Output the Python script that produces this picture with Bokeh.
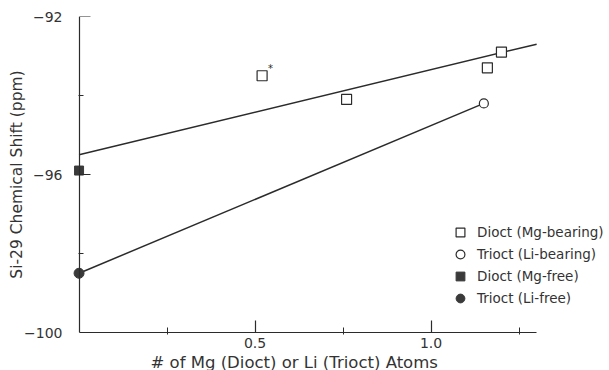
from bokeh.plotting import figure
from bokeh.models import (FixedTicker, Range1d, Label, Legend, LegendItem, Title,
                          PrintfTickFormatter, LinearAxis)
from bokeh.embed import file_html
from bokeh.resources import INLINE

# ---- data ----
dioct_mg_x = [0.52, 0.76, 1.16, 1.20]
dioct_mg_y = [-93.5, -94.1, -93.3, -92.9]
trioct_li_x = [1.15]
trioct_li_y = [-94.2]
dioct_free_x = [0.0]
dioct_free_y = [-95.9]
trioct_free_x = [0.0]
trioct_free_y = [-98.5]
upper_fit_x = [0.0, 1.3]
upper_fit_y = [-95.5, -92.7]
lower_fit_x = [0.0, 1.15]
lower_fit_y = [-98.5, -94.2]

x_major = [0.5, 1.0]
x_minor = [0.25, 0.75, 1.25]
y_major = [-100, -96, -92]
y_minor = [-98, -94]

labels = ["Dioct (Mg-bearing)", "Trioct (Li-bearing)", "Dioct (Mg-free)", "Trioct (Li-free)"]

INK = "#2b2b2b"
TXT = "#333333"
FONT = "DejaVu Sans"

p = figure(frame_width=537, frame_height=316, output_backend="svg", toolbar_location=None,
           x_range=Range1d(-0.03, 1.4956), y_range=Range1d(-100, -92),
           min_border_left=68, min_border_right=0, min_border_top=16, min_border_bottom=10)
p.outline_line_color = None
p.grid.visible = False
p.background_fill_color = "white"
p.border_fill_color = "white"

# x axis
xa = p.xaxis[0]
xa.ticker = FixedTicker(ticks=x_major, minor_ticks=x_minor)
xa.formatter = PrintfTickFormatter(format="%.1f")
xa.bounds = (0, 1.3)
xa.axis_line_color = INK
xa.axis_line_width = 1.2
xa.major_tick_line_color = INK
xa.minor_tick_line_color = INK
xa.major_tick_line_width = 1.2
xa.major_tick_in = 12
xa.major_tick_out = 0
xa.minor_tick_in = 5
xa.minor_tick_out = 2
xa.major_label_standoff = 3
xa.major_label_text_font = FONT
xa.major_label_text_font_size = "14px"
xa.major_label_text_color = TXT

# y axis: tick labels and title only (sits at frame edge)
ya = p.yaxis[0]
ya.ticker = FixedTicker(ticks=y_major, minor_ticks=y_minor)
ya.axis_line_color = None
ya.major_tick_line_color = None
ya.minor_tick_line_color = None
ya.major_tick_out = 0
ya.major_tick_in = 0
ya.minor_tick_out = 0
ya.minor_tick_in = 0
ya.major_label_standoff = 6
ya.major_label_text_font = FONT
ya.major_label_text_font_size = "14px"
ya.major_label_text_color = TXT
ya.axis_label = "Si-29 Chemical Shift (ppm)"
ya.axis_label_text_font = FONT
ya.axis_label_text_font_size = "15.5px"
ya.axis_label_text_font_style = "normal"
ya.axis_label_text_color = TXT
ya.axis_label_standoff = -5

# y axis line plus short ticks, drawn at x = 0 (no labels)
yb = LinearAxis(fixed_location=0, ticker=FixedTicker(ticks=[], minor_ticks=y_minor),
                axis_line_color=INK, axis_line_width=1.2,
                major_tick_line_color=None, major_tick_in=0, major_tick_out=0,
                minor_tick_line_color=INK, minor_tick_in=4, minor_tick_out=1,
                major_label_standoff=0)
p.add_layout(yb, "left")
# longer ticks at the labelled values, drawn at x = 0
yc = LinearAxis(fixed_location=0, ticker=FixedTicker(ticks=[], minor_ticks=y_major),
                axis_line_color=None,
                major_tick_line_color=None, major_tick_in=0, major_tick_out=0,
                minor_tick_line_color=INK, minor_tick_line_width=1.2,
                minor_tick_in=11, minor_tick_out=0,
                major_label_standoff=0)
p.add_layout(yc, "left")

# fit lines
p.line(upper_fit_x, upper_fit_y, line_color=INK, line_width=1.5)
p.line(lower_fit_x, lower_fit_y, line_color=INK, line_width=1.5)

r1 = p.scatter(dioct_mg_x, dioct_mg_y, marker="square", size=10, fill_color="white",
               line_color=INK, line_width=1.2)
r2 = p.scatter(trioct_li_x, trioct_li_y, marker="circle", size=9, fill_color="white",
               line_color=INK, line_width=1.2)
r3 = p.scatter(dioct_free_x, dioct_free_y, marker="square", size=9, fill_color="#3a3a3a",
               line_color="#3a3a3a")
r4 = p.scatter(trioct_free_x, trioct_free_y, marker="circle", size=10, fill_color="#3a3a3a",
               line_color="#3a3a3a")

# asterisk next to the first Mg-bearing point
p.add_layout(Label(x=dioct_mg_x[0], y=dioct_mg_y[0], text="*", x_offset=6, y_offset=2,
                   text_font=FONT, text_font_size="10px", text_color=INK))

# x-axis label as a bottom title
p.add_layout(Title(text="# of Mg (Dioct) or Li (Trioct) Atoms", align="left", offset=82,
                   text_font=FONT, text_font_size="16.5px", text_font_style="normal",
                   text_color=TXT, standoff=0), "below")

legend = Legend(items=[LegendItem(label=labels[0], renderers=[r1]),
                       LegendItem(label=labels[1], renderers=[r2]),
                       LegendItem(label=labels[2], renderers=[r3]),
                       LegendItem(label=labels[3], renderers=[r4])],
                location=(381, 23), glyph_width=22, glyph_height=22, spacing=0,
                padding=0, margin=0, label_standoff=6,
                border_line_color=None, background_fill_alpha=0,
                label_text_font=FONT, label_text_font_size="13.5px",
                label_text_color=TXT)
p.add_layout(legend, "center")

open("out.html", "w").write(file_html(p, INLINE))
